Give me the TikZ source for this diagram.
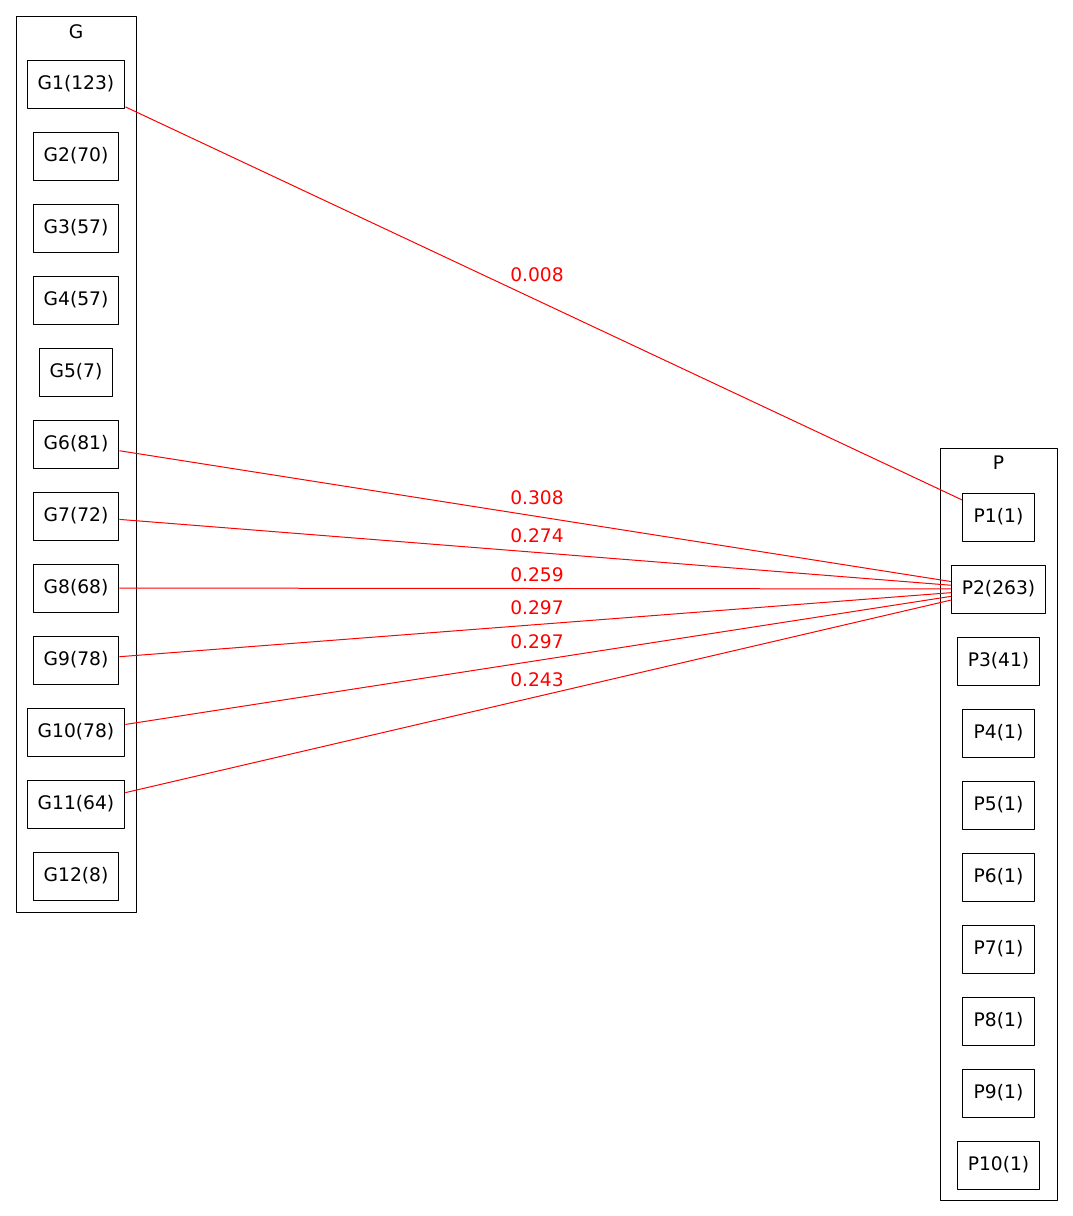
\documentclass[tikz,border=0pt]{standalone}
\usepackage{fontspec}
\setmainfont{DejaVu Sans}
\begin{document}
\begin{tikzpicture}[x=1pt,y=-1pt,line join=round,font=\fontsize{18.67}{22}\selectfont,
  box/.style={draw,line width=1pt,inner xsep=10.56pt,inner ysep=0pt,minimum height=48pt,minimum width=72pt},
  cluster/.style={draw,line width=1pt},
  edge/.style={red,line width=1pt},
  lbl/.style={text=red,inner sep=0pt}]
\useasboundingbox (0,0) rectangle (1073,1216);
\def\xg{76} \def\xp{998.5} \def\xl{537}
% clusters
\draw[cluster] (16,16) rectangle (136,912);
\draw[cluster] (940,448) rectangle (1057,1200);
\node[inner sep=0pt] (gname) at (\xg,31.5) {G};
\node[inner sep=0pt] (pname) at (\xp,463) {P};
% nodes
\foreach \i/\n in {1/123,2/70,3/57,4/57,5/7,6/81,7/72,8/68,9/78,10/78,11/64,12/8}
\node[box] (g\i) at (\xg,{12+72*\i}) {G\i(\n)};
\foreach \i/\n in {1/1,2/263,3/41,4/1,5/1,6/1,7/1,8/1,9/1,10/1}
\node[box] (p\i) at (\xp,{445+72*\i}) {P\i(\n)};
% edges
\foreach \s/\t/\w/\y/\k in {1/1/0.008/275/a,6/2/0.308/498/b,7/2/0.274/536/c,8/2/0.259/575/d,9/2/0.297/608/e,10/2/0.297/641.7/f,11/2/0.243/680/g}{
\draw[edge] (g\s) -- (p\t);
\node[lbl] (w\k) at (\xl,\y) {\w};}
\end{tikzpicture}
\end{document}
